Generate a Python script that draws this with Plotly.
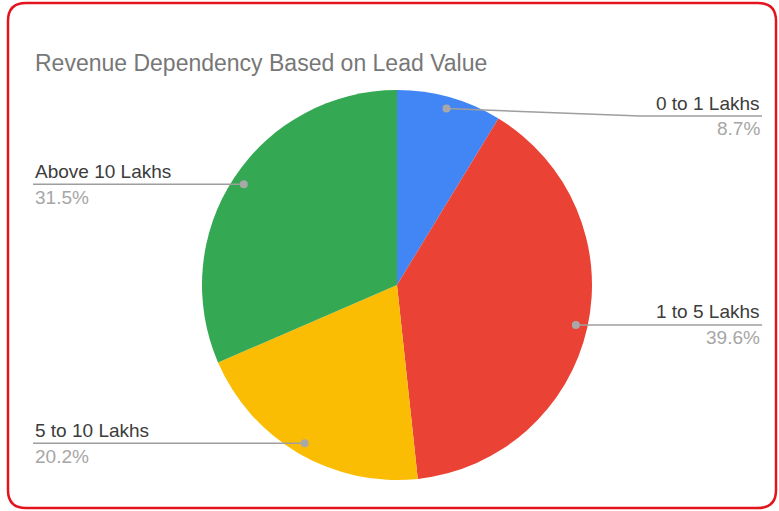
import math
import plotly.graph_objects as go

categories = ["0 to 1 Lakhs", "1 to 5 Lakhs", "5 to 10 Lakhs", "Above 10 Lakhs"]
shares = [8.7, 39.6, 20.2, 31.5]
colors = ["#4285F4", "#EA4335", "#FBBC04", "#34A853"]
title_text = "Revenue Dependency Based on Lead Value"

W, H = 779, 511
CX, CY, R = 397, 285, 195
FONT = "Liberation Sans, Arial, sans-serif"


def px(x):
    return x / W


def py(y):
    return 1 - y / H


fig = go.Figure(go.Pie(
    labels=categories, values=shares, sort=False, direction="clockwise", rotation=0,
    marker=dict(colors=colors, line=dict(width=0)), textinfo="none", hoverinfo="none",
    showlegend=False,
    domain=dict(x=[px(CX - R), px(CX + R)], y=[py(CY + R), py(CY - R)]),
))

shapes = []
annotations = []
total = sum(shares)
cum = 0.0
for cat, v in zip(categories, shares):
    mid = (cum + v / 2) / total * 2 * math.pi
    cum += v
    dx = CX + 0.94 * R * math.sin(mid)
    dy = CY - 0.94 * R * math.cos(mid)
    line_y = max(dy, 116)
    right = math.sin(mid) > 0
    end_x = 762 if right else 33
    if abs(line_y - dy) > 1:
        bend_x = 640
        path = f"M {px(dx)},{py(dy)} L {px(bend_x)},{py(line_y)} L {px(end_x)},{py(line_y)}"
    else:
        path = f"M {px(dx)},{py(dy)} L {px(end_x)},{py(line_y)}"
    shapes.append(dict(type="path", xref="paper", yref="paper", path=path,
                       line=dict(color="#9e9e9e", width=1.5)))
    r = 4
    shapes.append(dict(type="circle", xref="paper", yref="paper",
                       x0=px(dx - r), x1=px(dx + r), y0=py(dy + r), y1=py(dy - r),
                       fillcolor="#a8a8a8", line=dict(width=0)))
    anchor = "right" if right else "left"
    annotations.append(dict(text=cat, x=px(end_x), y=py(line_y - 13), xref="paper", yref="paper",
                            xanchor=anchor, yanchor="middle", showarrow=False,
                            font=dict(family=FONT, size=19, color="#3c3c3c")))
    annotations.append(dict(text=f"{v:.1f}%", x=px(end_x), y=py(line_y + 13), xref="paper", yref="paper",
                            xanchor=anchor, yanchor="middle", showarrow=False,
                            font=dict(family=FONT, size=19, color="#a6a6a6")))

annotations.append(dict(text=title_text, x=px(33), y=py(63), xref="paper", yref="paper",
                        xanchor="left", yanchor="middle", showarrow=False,
                        font=dict(family=FONT, size=23, color="#777777")))

# rounded red frame
x0, x1, y0, y1, rr = 8, 776, 3, 508, 18
frame = (f"M {px(x0 + rr)},{py(y0)} L {px(x1 - rr)},{py(y0)} "
         f"Q {px(x1)},{py(y0)} {px(x1)},{py(y0 + rr)} L {px(x1)},{py(y1 - rr)} "
         f"Q {px(x1)},{py(y1)} {px(x1 - rr)},{py(y1)} L {px(x0 + rr)},{py(y1)} "
         f"Q {px(x0)},{py(y1)} {px(x0)},{py(y1 - rr)} L {px(x0)},{py(y0 + rr)} "
         f"Q {px(x0)},{py(y0)} {px(x0 + rr)},{py(y0)} Z")
shapes.append(dict(type="path", xref="paper", yref="paper", path=frame,
                   line=dict(color="#e3141b", width=2.5)))

fig.update_layout(width=W, height=H, margin=dict(l=0, r=0, t=0, b=0),
                  paper_bgcolor="white", plot_bgcolor="white",
                  shapes=shapes, annotations=annotations)
fig.write_html("out.html", config={"displayModeBar": False},
               post_script="document.body.style.margin='0';document.body.style.overflow='hidden';")
